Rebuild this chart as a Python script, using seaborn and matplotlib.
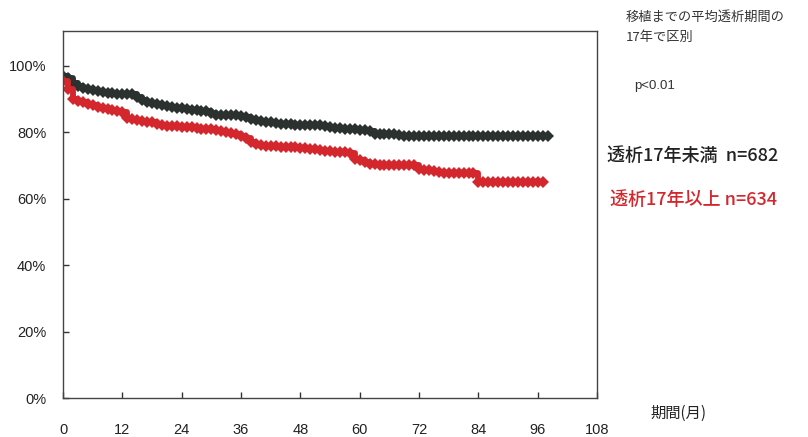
import numpy as np
import pandas as pd
import matplotlib
matplotlib.use("Agg")
import matplotlib.pyplot as plt
import seaborn as sns

months_black = list(range(0, 99))
surv_black = [97, 96.5, 95, 94, 93.5, 93, 92.6, 92.3, 92, 91.8,
              91.7, 91.6, 91.5, 91.5, 91.4, 90.5, 89.7, 89.2, 88.8, 88.4,
              88.1, 87.9, 87.6, 87.4, 87.2, 87, 86.8, 86.6, 86.5, 86.4,
              85.8, 85.3, 85.2, 85.2, 85.1, 85.1, 85, 84.5, 84.1, 83.8,
              83.3, 83.1, 83, 82.8, 82.5, 82.4, 82.4, 82.3, 82.3, 82.3,
              82.2, 82.2, 82.1, 81.8, 81.5, 81.3, 81.2, 81.1, 81, 80.9,
              80.8, 80.6, 80.3, 79.6, 79.5, 79.5, 79.5, 79.4, 79.2, 79.0,
              79, 79, 79, 79, 79, 79, 79, 79, 79, 79,
              79, 79, 79, 79, 79, 79, 79, 79, 79, 79,
              79, 79, 79, 79, 79, 79, 79, 79, 79]

months_red = list(range(0, 98))
surv_red = [95.5, 93, 90, 89.5, 89, 88.5, 88.1, 87.7, 87.3, 87,
            86.7, 86.4, 86.1, 84.3, 84, 83.7, 83.4, 83.2, 83, 82.6,
            82.2, 82, 81.9, 81.8, 81.7, 81.6, 81.5, 81.3, 81.1, 81,
            80.9, 80.7, 80.5, 80.2, 79.8, 79.4, 79, 78.3, 77.2, 76.5,
            76.2, 76, 75.9, 75.8, 75.7, 75.6, 75.5, 75.5, 75.4, 75.3,
            75.1, 74.9, 74.7, 74.5, 74.4, 74.2, 74.1, 74, 73.8, 72,
            71.6, 71.2, 70.6, 70.4, 70.3, 70.3, 70.3, 70.3, 70.3, 70.3,
            70.3, 70.3, 68.9, 68.8, 68.6, 68.4, 68.1, 67.9, 67.9, 67.9,
            67.9, 67.9, 67.9, 67.9, 65.2, 65.2, 65.2, 65.2, 65.2, 65.2,
            65.2, 65.2, 65.2, 65.2, 65.2, 65.2, 65.2, 65.2]

group_names = ["透析17年未満", "透析17年以上"]
x_ticks = [0, 12, 24, 36, 48, 60, 72, 84, 96, 108]
y_ticks = [0, 20, 40, 60, 80, 100]

df = pd.concat([
    pd.DataFrame({"month": months_black, "surv": surv_black, "group": group_names[0]}),
    pd.DataFrame({"month": months_red, "surv": surv_red, "group": group_names[1]}),
])

sns.set_theme(style="white")
plt.rcParams['font.family'] = ['Liberation Sans', 'Noto Sans CJK JP', 'DejaVu Sans']

fig = plt.figure(figsize=(8.08, 4.37), dpi=100)
ax = fig.add_axes([0.078, 0.089, 0.661, 0.840])

palette = {group_names[0]: "#2b312e", group_names[1]: "#d3262d"}
sns.lineplot(data=df, x="month", y="surv", hue="group", palette=palette,
             drawstyle="steps-post", marker="D", markersize=6.5,
             markeredgewidth=0, linewidth=4.2, legend=False, ax=ax,
             estimator=None, sort=True)

ax.set_xlim(0, 108)
ax.set_ylim(0, 110.5)
ax.set_xticks(x_ticks)
ax.set_xticklabels([str(t) for t in x_ticks], fontsize=10.5, color="#222222")
ax.set_yticks(y_ticks)
ax.set_yticklabels([f"{t}%" for t in y_ticks], fontsize=10.5, color="#222222")
ax.tick_params(axis="both", direction="in", length=4, width=1, color="#333333",
               bottom=True, left=True)
ax.tick_params(axis="x", pad=18)
ax.tick_params(axis="y", pad=12)
ax.set_xlabel("")
ax.set_ylabel("")
for s in ax.spines.values():
    s.set_visible(True)
    s.set_color("#444444")
    s.set_linewidth(1.0)

jp = ['Noto Sans CJK JP', 'DejaVu Sans']
fig.text(626 / 808, 1 - 17 / 437, "移植までの平均透析期間の", fontsize=9.5,
         family=jp, color="#333333", va="center", ha="left")
fig.text(626 / 808, 1 - 37 / 437, "17年で区別", fontsize=9.5,
         family=jp, color="#333333", va="center", ha="left")
fig.text(634 / 808, 1 - 86 / 437, "p<0.01", fontsize=9.5,
         family=['Liberation Sans'], color="#333333", va="center", ha="left")
fig.text(607 / 808, 1 - 156 / 437, "透析17年未満  n=682", fontsize=13,
         family=jp, color="#222222", va="center", ha="left", fontweight="medium")
fig.text(610 / 808, 1 - 200 / 437, "透析17年以上 n=634", fontsize=13,
         family=jp, color="#d3262d", va="center", ha="left", fontweight="medium")
fig.text(650 / 808, 1 - 413 / 437, "期間(月)", fontsize=11,
         family=jp, color="#222222", va="center", ha="left")

fig.savefig("out.png", dpi=100)
